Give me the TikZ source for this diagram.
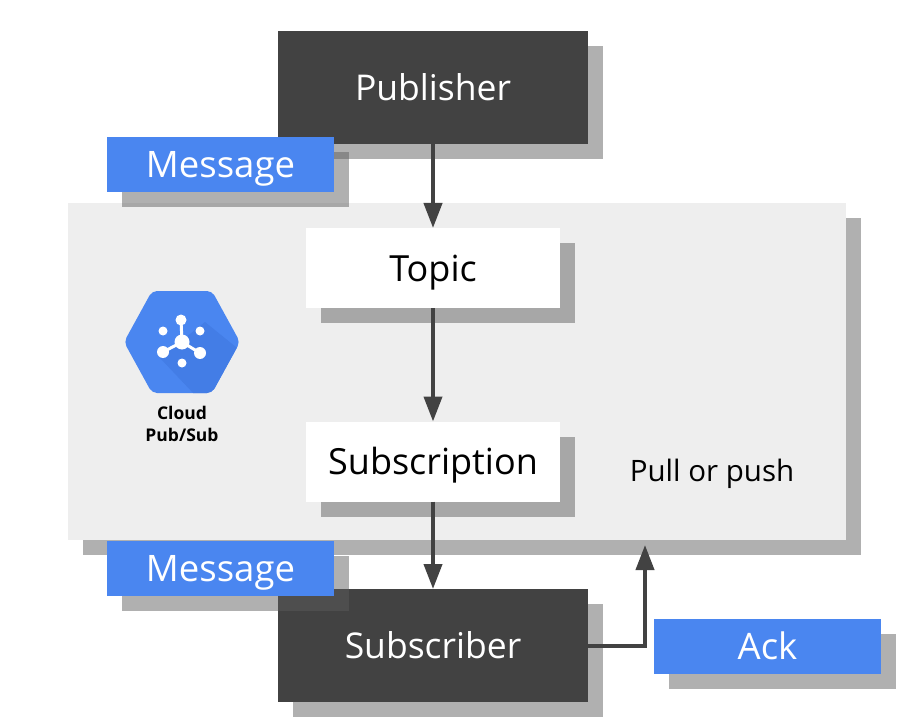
\documentclass[tikz,border=0pt]{standalone}
\usepackage{fontspec}
\setmainfont{Open Sans}
\usetikzlibrary{shadows}
\usetikzlibrary{arrows.meta}
\definecolor{darkbox}{HTML}{424242}
\definecolor{bluebox}{HTML}{4A86F0}
\definecolor{panelgray}{HTML}{EEEEEE}
\definecolor{logoshade}{HTML}{437DE6}
\definecolor{shadowgray}{HTML}{5C5C5C}
\tikzset{
    boxed/.style={inner sep=0pt,outer sep=0pt,text height=26pt,text depth=0pt,drop shadow={shadow xshift=15pt,shadow yshift=-15pt,fill=shadowgray,opacity=0.486}},
    darkbig/.style={boxed,fill=darkbox,text=white,minimum width=310pt,minimum height=113pt,font=\fontsize{35.5}{40}\selectfont},
    whitebox/.style={boxed,fill=white,text=black,minimum width=254pt,minimum height=80pt,font=\fontsize{36}{40}\selectfont},
    bluelabel/.style={boxed,fill=bluebox,text=white,minimum width=227pt,minimum height=55pt,font=\fontsize{36.5}{40}\selectfont},
    flow/.style={draw=darkbox,line width=4pt,-{Triangle[width=18pt,length=25pt]}}
}
\begin{document}
\begin{tikzpicture}[x=1pt,y=-1pt]
    \useasboundingbox (0,0) rectangle (915,727);
    \node[boxed,fill=panelgray,minimum width=778pt,minimum height=337pt] (panel) at (457,371.5) {};
    \node[darkbig] (publisher) at (433,87.5) {Publisher};
    \node[darkbig] (subscriber) at (433,645.5) {Subscriber};
    \node[whitebox] (topic) at (433,268) {Topic};
    \node[whitebox] (subscription) at (433,461.5) {Subscription};
    \node[bluelabel] (msgtop) at (220.5,164.5) {Message};
    \node[bluelabel] (msgbottom) at (220.5,568.5) {Message};
    \node[bluelabel] (ack) at (767.5,646) {Ack};
    \node[text=black,text height=21pt,text depth=0pt,inner sep=0pt,font=\fontsize{29.5}{32}\selectfont] (pull) at (712,470.5) {Pull or push};
    \coordinate (ackend) at (645,545);

    % logo
    \path[fill=bluebox,rounded corners=5pt] (124,342) -- (152,291) -- (212,291) -- (240,342) -- (212,393) -- (152,393) -- cycle;
    \begin{scope}
        \clip[rounded corners=5pt] (124,342) -- (152,291) -- (212,291) -- (240,342) -- (212,393) -- (152,393) -- cycle;
        \fill[logoshade] (205,322) -- (242,352) -- (242,395) -- (195,395) -- (160,358) -- cycle;
    \end{scope}
    \foreach \px/\py in{181/320,163/352,200/353}
    {
        \draw[white,line width=3pt] (182,342) -- (\px,\py);
    }
    \foreach \px/\py/\r in{182/342/7.5,181/320/5.5,163/331/4.5,200/331/4.5,163/352/6,200/353/6,182/363/4.5}
    {
        \fill[white] (\px,\py) circle (\r);
    }
    \node[text=black,align=center,font=\fontsize{17.5}{22}\selectfont\bfseries] (logotext) at (182,424) {Cloud\\Pub/Sub};

    \draw[flow] (publisher) -- (topic);
    \draw[flow] (topic) -- (subscription);
    \draw[flow] (subscription) -- (subscriber);
    \draw[flow] (subscriber.east) -| (ackend);
\end{tikzpicture}
\end{document}
